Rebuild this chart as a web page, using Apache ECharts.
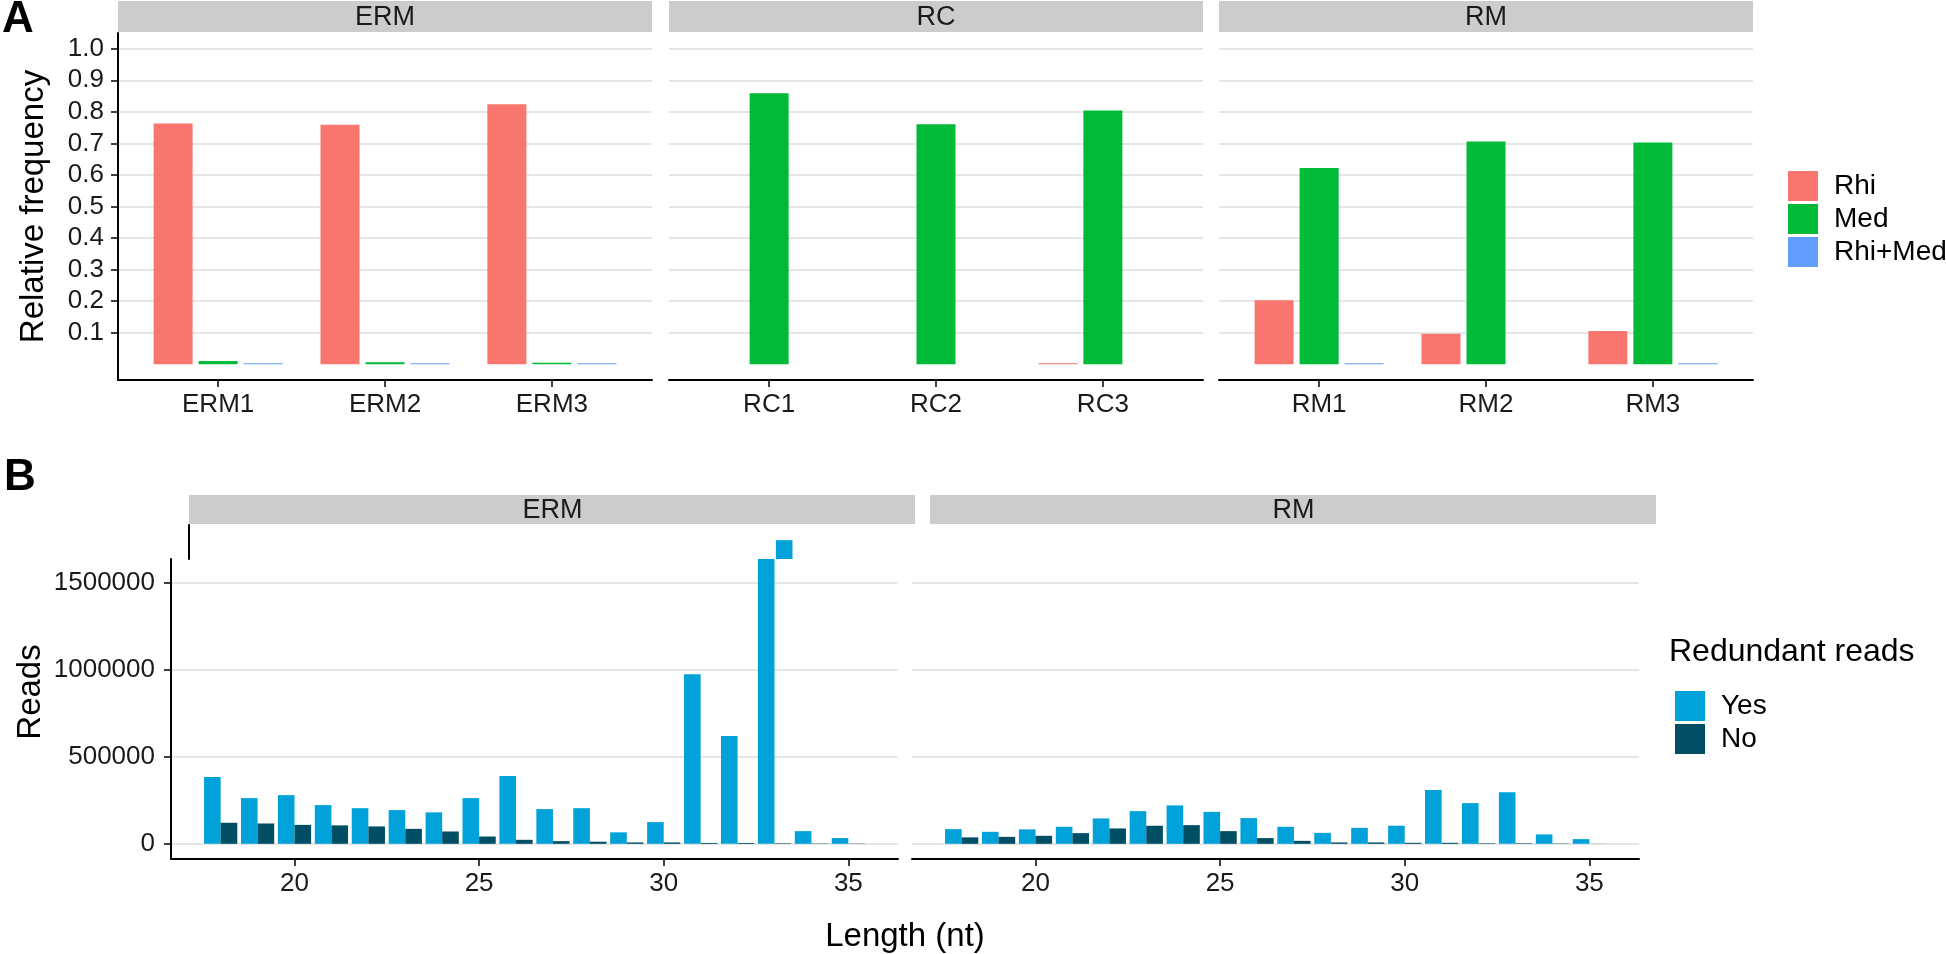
<!DOCTYPE html>
<html><head><meta charset="utf-8">
<script src="https://cdn.jsdelivr.net/npm/echarts@6/dist/echarts.min.js"></script>
<style>html,body{margin:0;padding:0;background:#fff}#c{width:1946px;height:954px}</style>
</head><body><div id="c"></div>
<script>
// ---------------- data ----------------
const freqTicks = [0.1, 0.2, 0.3, 0.4, 0.5, 0.6, 0.7, 0.8, 0.9, 1.0];
const facetsA = ['ERM', 'RC', 'RM'];
const groupsA = ['Rhi', 'Med', 'Rhi+Med'];
const samplesERM = ['ERM1', 'ERM2', 'ERM3'];
const samplesRC = ['RC1', 'RC2', 'RC3'];
const samplesRM = ['RM1', 'RM2', 'RM3'];
const rhiERM = [0.763, 0.759, 0.824];
const medERM = [0.010, 0.006, 0.005];
const rhiMedERM = [0.003, 0.003, 0.003];
const rhiRC = [0, 0, 0.003];
const medRC = [0.859, 0.761, 0.804];
const rhiMedRC = [0, 0, 0];
const rhiRM = [0.203, 0.097, 0.105];
const medRM = [0.622, 0.706, 0.703];
const rhiMedRM = [0.003, 0, 0.003];

const facetsB = ['ERM', 'RM'];
const redundant = ['Yes', 'No'];
const lengths = [18, 19, 20, 21, 22, 23, 24, 25, 26, 27, 28, 29, 30, 31, 32, 33, 34, 35];
const yesERM = [385000, 263000, 280000, 223000, 205000, 194000, 181000, 263000, 390000, 200000, 205000, 66000, 125000, 975000, 621000, 1747000, 73000, 33000];
const noERM = [121000, 117000, 109000, 106000, 100000, 86000, 71000, 42000, 23000, 15500, 12000, 8000, 8000, 5000, 5000, 3000, 2000, 1500];
const yesRM = [84500, 69000, 83000, 98000, 146000, 188000, 221000, 184000, 148000, 98000, 63000, 92000, 104000, 309000, 234000, 297000, 54000, 27000];
const noRM = [37000, 40000, 46000, 61500, 88500, 104000, 107500, 73000, 33000, 17000, 8000, 8000, 6000, 6000, 3000, 3000, 2000, 500];
const readTicks = [0, 500000, 1000000, 1500000];
const lengthTicks = [20, 25, 30, 35];

// ---------------- styles / layout ----------------
const FONT = '"Liberation Sans", Arial, Helvetica, sans-serif';
const colors = { 'Rhi': '#F8766D', 'Med': '#00BA38', 'Rhi+Med': '#619CFF', 'Yes': '#00A2D9', 'No': '#004E64' };
const LA = { lefts: [118, 669, 1219], width: 534, top: 33, height: 347, stripTop: 1, stripH: 31 };
const LB = { lefts: [171, 912], width: 727, top: 559, height: 300, upperH: 34, shift: 18, stripTop: 495, stripH: 29 };
const TICK = 26, STRIP = 27, TITLE = 33, LEG = 28, LEGTITLE = 32;
const gridColor = '#DEDEDE';

const samplesA = [samplesERM, samplesRC, samplesRM];
const valuesA = [[rhiERM, medERM, rhiMedERM], [rhiRC, medRC, rhiMedRC], [rhiRM, medRM, rhiMedRM]];
const yesB = [yesERM, yesRM], noB = [noERM, noRM];

// scale ranges (ggplot-like 5% expansion / discrete 0.6)
const aXMin = 1 - 0.6, aXMax = samplesERM.length + 0.6;
const aYMin = -0.05 * 1.0, aYMax = 1.0 * 1.05;
const bLo = lengths[0] - 0.45, bHi = lengths[lengths.length - 1] + 0.45;
const bXMin = bLo - 0.05 * (bHi - bLo), bXMax = bHi + 0.05 * (bHi - bLo);
const bDataMax = Math.max(...yesERM, ...noERM, ...yesRM, ...noRM);
const bYMin = -0.05 * bDataMax, bYMax = bDataMax * 1.05;
const bYCut = bYMin + (bYMax - bYMin) * LB.height / (LB.height + LB.upperH);

const grids = [], xAxes = [], yAxes = [], series = [], graphics = [];
const axisLineStyle = { color: '#000', width: 2 };
const tickStyle = { color: '#000', width: 1.5 };
const labelStyle = { fontSize: TICK, color: '#1a1a1a', fontFamily: FONT };

// Panel A
facetsA.forEach((f, i) => {
  grids.push({ left: LA.lefts[i], top: LA.top, width: LA.width, height: LA.height, outerBoundsMode: 'none' });
  xAxes.push({
    gridIndex: i, type: 'value', min: aXMin, max: aXMax,
    axisLine: { show: true, onZero: false, lineStyle: axisLineStyle },
    axisTick: { show: true, length: 7, lineStyle: tickStyle, customValues: [1, 2, 3] },
    axisLabel: Object.assign({ customValues: [1, 2, 3], margin: 12, formatter: v => samplesA[i][Math.round(v) - 1] }, labelStyle),
    splitLine: { show: false }
  });
  yAxes.push({
    gridIndex: i, type: 'value', min: aYMin, max: aYMax,
    name: i === 0 ? 'Relative frequency' : '', nameLocation: 'middle', nameGap: 68,
    nameTextStyle: { fontSize: TITLE, color: '#000', fontFamily: FONT },
    axisLine: { show: i === 0, onZero: false, lineStyle: axisLineStyle },
    axisTick: { show: i === 0, length: 7, lineStyle: tickStyle, customValues: freqTicks },
    axisLabel: Object.assign({ show: i === 0, customValues: freqTicks, margin: 14, formatter: v => v.toFixed(1) }, labelStyle),
    splitLine: { show: true, lineStyle: { color: gridColor, width: 1.5 } }
  });
  groupsA.forEach((g, j) => {
    series.push({
      type: 'bar', name: g, xAxisIndex: i, yAxisIndex: i, clip: true, silent: true,
      barWidth: 39, barGap: '15.4%',
      itemStyle: { color: colors[g] },
      data: valuesA[i][j].map((v, k) => [k + 1, v])
    });
  });
  graphics.push({ type: 'rect', shape: { x: LA.lefts[i], y: LA.stripTop, width: LA.width, height: LA.stripH }, style: { fill: '#CCCCCC' }, silent: true });
  graphics.push({ type: 'text', style: { text: f, x: LA.lefts[i] + LA.width / 2, y: LA.stripTop + LA.stripH / 2 + 1, textAlign: 'center', textVerticalAlign: 'middle', font: STRIP + 'px ' + FONT, fill: '#1a1a1a' }, silent: true });
});

// Panel B: grids 3 (ERM lower), 4 (ERM upper, shifted), 5 (RM)
const bPanels = [
  { facet: 0, left: LB.lefts[0], top: LB.top, height: LB.height, min: bYMin, max: bYCut, yLine: true, yLabels: true, split: true, xShow: true },
  { facet: 0, left: LB.lefts[0] + LB.shift, top: LB.top - LB.upperH, height: LB.upperH, min: bYCut, max: bYMax, yLine: true, yLabels: false, split: false, xShow: false },
  { facet: 1, left: LB.lefts[1], top: LB.top, height: LB.height, min: bYMin, max: bYCut, yLine: false, yLabels: false, split: true, xShow: true }
];
bPanels.forEach((p, k) => {
  const gi = 3 + k;
  grids.push({ left: p.left, top: p.top, width: LB.width, height: p.height, outerBoundsMode: 'none' });
  xAxes.push({
    gridIndex: gi, type: 'value', min: bXMin, max: bXMax, show: p.xShow,
    axisLine: { show: true, onZero: false, lineStyle: axisLineStyle },
    axisTick: { show: true, length: 7, lineStyle: tickStyle, customValues: lengthTicks },
    axisLabel: Object.assign({ customValues: lengthTicks, margin: 12, formatter: v => String(v) }, labelStyle),
    splitLine: { show: false }
  });
  yAxes.push({
    gridIndex: gi, type: 'value', min: p.min, max: p.max,
    axisLine: { show: p.yLine, onZero: false, lineStyle: axisLineStyle },
    axisTick: { show: p.yLabels, length: 7, lineStyle: tickStyle, customValues: readTicks },
    axisLabel: Object.assign({ show: p.yLabels, customValues: readTicks, margin: 16, formatter: v => String(Math.round(v)) }, labelStyle),
    splitLine: { show: p.split, lineStyle: { color: gridColor, width: 1.5 } }
  });
  [yesB[p.facet], noB[p.facet]].forEach((arr, j) => {
    series.push({
      type: 'bar', name: redundant[j], xAxisIndex: gi, yAxisIndex: gi, clip: true, silent: true,
      barWidth: '45%', barGap: '0%',
      itemStyle: { color: colors[redundant[j]] },
      data: arr.map((v, n) => [lengths[n], v])
    });
  });
});
facetsB.forEach((f, i) => {
  const x = LB.lefts[i] + LB.shift;
  graphics.push({ type: 'rect', shape: { x: x, y: LB.stripTop, width: LB.width - 1, height: LB.stripH }, style: { fill: '#CCCCCC' }, silent: true });
  graphics.push({ type: 'text', style: { text: f, x: x + LB.width / 2, y: LB.stripTop + LB.stripH / 2 + 1, textAlign: 'center', textVerticalAlign: 'middle', font: STRIP + 'px ' + FONT, fill: '#1a1a1a' }, silent: true });
});

// titles / panel letters
graphics.push({ type: 'text', style: { text: 'A', x: 2, y: 20, textVerticalAlign: 'middle', font: 'bold 44px ' + FONT, fill: '#000' } });
graphics.push({ type: 'text', style: { text: 'B', x: 4, y: 478, textVerticalAlign: 'middle', font: 'bold 44px ' + FONT, fill: '#000' } });
graphics.push({ type: 'text', x: 31, y: (LB.top - LB.upperH + LB.top + LB.height) / 2, rotation: Math.PI / 2, style: { text: 'Reads', x: 0, y: 0, textAlign: 'center', textVerticalAlign: 'middle', font: TITLE + 'px ' + FONT, fill: '#000' } });
graphics.push({ type: 'text', style: { text: 'Length (nt)', x: (LB.lefts[0] + LB.lefts[1] + LB.width) / 2, y: 937, textAlign: 'center', textVerticalAlign: 'middle', font: TITLE + 'px ' + FONT, fill: '#000' } });
graphics.push({ type: 'text', style: { text: 'Redundant reads', x: 1669, y: 652, textVerticalAlign: 'middle', font: LEGTITLE + 'px ' + FONT, fill: '#000' } });

const legendBase = {
  orient: 'vertical', itemWidth: 30, itemHeight: 30, itemGap: 3, icon: 'rect', selectedMode: false,
  textStyle: { fontSize: LEG, color: '#000', fontFamily: FONT, padding: [0, 0, 0, 11] }
};

const chart = echarts.init(document.getElementById('c'), null, { renderer: 'canvas' });
chart.setOption({
  animation: false,
  backgroundColor: '#fff',
  grid: grids, xAxis: xAxes, yAxis: yAxes, series: series,
  legend: [
    Object.assign({ data: groupsA, left: 1783, top: 166 }, legendBase),
    Object.assign({ data: redundant, left: 1670, top: 686 }, legendBase)
  ],
  graphic: graphics
});
</script></body></html>
